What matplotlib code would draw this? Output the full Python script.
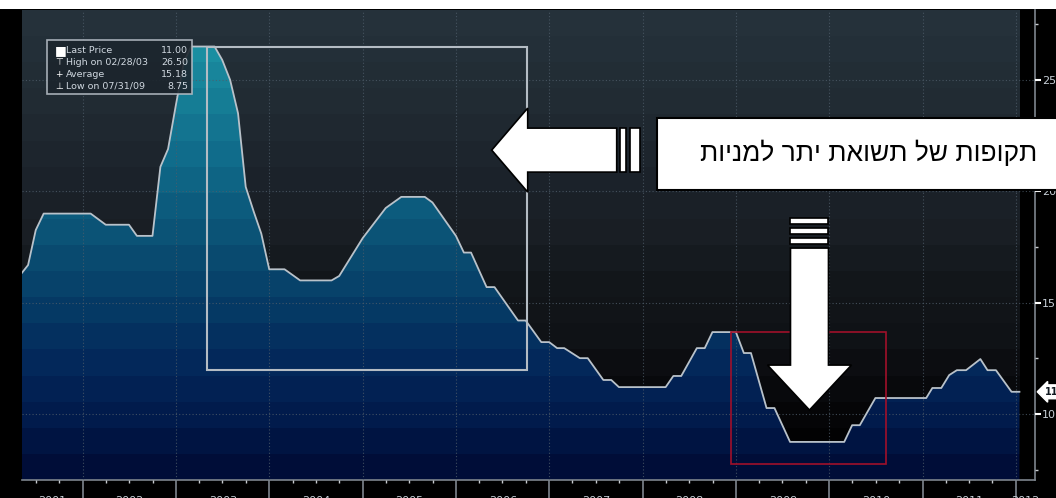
import numpy as np
import pandas as pd
import matplotlib
matplotlib.use('Agg')
import matplotlib.pyplot as plt
import matplotlib.dates as mdates
import matplotlib.transforms as mtransforms
from matplotlib.patches import Rectangle, Polygon
from matplotlib.colors import to_rgb

# turning points of the series
dates = ['2001-04-30', '2001-05-31', '2001-06-30', '2001-07-31', '2002-01-31', '2002-03-31',
         '2002-06-30', '2002-07-31', '2002-09-30', '2002-10-31', '2002-11-30', '2002-12-31',
         '2003-01-31', '2003-02-28', '2003-05-31', '2003-06-30', '2003-07-31', '2003-08-31',
         '2003-09-30', '2003-10-31', '2003-11-30', '2003-12-31', '2004-02-29', '2004-04-30',
         '2004-08-31', '2004-09-30', '2004-12-31', '2005-03-31', '2005-05-31', '2005-08-31',
         '2005-09-30', '2005-12-31', '2006-01-31', '2006-02-28', '2006-04-30', '2006-05-31',
         '2006-08-31', '2006-09-30', '2006-11-30', '2006-12-31', '2007-01-31', '2007-02-28',
         '2007-04-30', '2007-05-31', '2007-07-31', '2007-08-31', '2007-09-30', '2008-03-31',
         '2008-04-30', '2008-05-31', '2008-07-31', '2008-08-31', '2008-09-30', '2008-12-31',
         '2009-01-31', '2009-02-28', '2009-04-30', '2009-05-31', '2009-07-31', '2010-02-28',
         '2010-03-31', '2010-04-30', '2010-06-30', '2011-01-15', '2011-02-08', '2011-03-15',
         '2011-04-15', '2011-05-15', '2011-06-20', '2011-08-15', '2011-09-12', '2011-10-15',
         '2011-12-15', '2012-01-15']
values = [16.24, 16.69, 18.26, 19.0, 19.0, 18.5,
          18.5, 18.0, 18.0, 21.1, 21.9, 23.9,
          25.8, 26.5, 26.5, 25.9, 25.0, 23.5,
          20.2, 19.1, 18.1, 16.5, 16.5, 16.0,
          16.0, 16.2, 17.9, 19.25, 19.75, 19.75,
          19.5, 18.0, 17.25, 17.25, 15.7, 15.7,
          14.2, 14.2, 13.23, 13.23, 12.96, 12.96,
          12.51, 12.51, 11.53, 11.53, 11.21, 11.21,
          11.71, 11.71, 12.96, 12.96, 13.68, 13.68,
          12.74, 12.74, 10.27, 10.27, 8.75, 8.75,
          9.5, 9.5, 10.72, 10.72, 11.17, 11.17,
          11.75, 11.97, 11.97, 12.47, 11.97, 11.97,
          11.0, 11.0]

years = list(range(2001, 2013))
y_ticks = [10, 15, 20, 25]
legend_names = ['Last Price', 'High on 02/28/03', 'Average', 'Low on 07/31/09']
legend_values = ['11.00', '26.50', '15.18', '8.75']
last_price = 11.00
note = 'תקופות של תשואת יתר למניות'

# highlighted periods: (start, end, low, high)
period_up = ('2003-05-01', '2006-10-07', 12.0, 26.5)
period_down = ('2008-12-10', '2010-08-10', 7.75, 13.7)

W, H = 1056, 498
fig = plt.figure(figsize=(W / 100, H / 100), dpi=100)
fig.patch.set_facecolor('black')
ax = fig.add_axes([22 / W, 18 / H, 1013 / W, 470 / H])
ax.set_facecolor('black')

xd = mdates.date2num(pd.to_datetime(dates))
yv = np.array(values)
d0 = mdates.date2num(pd.Timestamp('2002-01-01'))
ppd = 93.3 / 365.25  # pixels per day
x_lo, x_hi = d0 - 61 / ppd, d0 + 952 / ppd
y_lo, y_hi = 7.04, 28.14
ax.set_xlim(x_lo, x_hi)
ax.set_ylim(y_lo, y_hi)


def bands(anchors, n=18):
    # stepped vertical gradient, top row first
    lv = np.array([a[0] for a in anchors])
    cols = np.array([to_rgb(a[1]) for a in anchors])
    centers = np.linspace(y_hi, y_lo, n)
    img = np.stack([np.interp(centers, lv, cols[:, k]) for k in range(3)], axis=-1)
    return img[:, None, :]


bg = bands([(7, '#000000'), (9.5, '#050507'), (11.5, '#0b0c10'), (13.5, '#101317'),
            (16, '#13171b'), (18.5, '#1a1f26'), (21, '#1c232b'), (24, '#212b33'),
            (28, '#25313a')])
fill = bands([(7, '#000d38'), (9.5, '#011b4c'), (12, '#03285a'), (14.5, '#063a65'),
              (17, '#0a4b70'), (19.5, '#0d5c7e'), (22, '#116d8c'), (24.5, '#167e96'),
              (27, '#1b8fa2')])
ext = [x_lo, xd[-1], y_lo, y_hi]
ax.imshow(bg, extent=ext, aspect='auto', interpolation='nearest', zorder=0)
im = ax.imshow(fill, extent=ext, aspect='auto', interpolation='nearest', zorder=1)
verts = np.vstack([[xd[0], y_lo], np.column_stack([xd, yv]), [xd[-1], y_lo]])
shape = Polygon(verts, closed=True, facecolor='none', edgecolor='none')
ax.add_patch(shape)
im.set_clip_path(shape)
ax.plot(xd, yv, color='#b9c2ca', lw=1.3, zorder=4)

# axes dressing
ax.xaxis.set_major_locator(mdates.YearLocator())
ax.xaxis.set_minor_locator(mdates.MonthLocator(bymonth=[4, 7, 10]))
ax.xaxis.set_major_formatter(plt.NullFormatter())
ax.tick_params(axis='x', which='major', length=18, width=1.2, color='#7d858d', direction='out')
ax.tick_params(axis='x', which='minor', length=2.5, width=1, color='#c8ccd0', direction='out')
ax.yaxis.tick_right()
ax.set_yticks(y_ticks)
ax.set_yticks(np.arange(7.5, 28, 2.5), minor=True)
ax.tick_params(axis='y', which='major', length=4, width=1.5, color='white', pad=1,
               labelsize=8, labelcolor='#c8d0d8')
ax.tick_params(axis='y', which='minor', length=2, width=1, color='#c8ccd0')
ax.grid(True, which='major', color='#4f5d6a', ls=(0, (1, 2)), lw=0.8, alpha=0.8, zorder=3)
ax.set_axisbelow(False)
for s in ['top', 'left']:
    ax.spines[s].set_visible(False)
for s in ['bottom', 'right']:
    ax.spines[s].set_color('#7d858d')
    ax.spines[s].set_linewidth(1.2)

trans = mtransforms.blended_transform_factory(ax.transData, ax.transAxes)
for yr in years:
    a = max(mdates.date2num(pd.Timestamp(f'{yr}-01-01')), x_lo)
    b = min(mdates.date2num(pd.Timestamp(f'{yr + 1}-01-01')), x_hi)
    ax.text((a + b) / 2, -15.5 / 470, str(yr), transform=trans, ha='center', va='top',
            fontsize=8, color='#c8d0d8', clip_on=False)

# last price tag
ax.annotate(f'{last_price:.2f}', xy=(1.0, last_price), xycoords=('axes fraction', 'data'),
            xytext=(7, 0), textcoords='offset points', va='center', ha='left',
            fontsize=7, color='#101820', fontweight='bold', annotation_clip=False,
            bbox=dict(boxstyle='larrow,pad=0.2', fc='white', ec='white'))

# highlighted periods
s, e, lo, hi = period_up
s, e = mdates.date2num(pd.Timestamp(s)), mdates.date2num(pd.Timestamp(e))
ax.add_patch(Rectangle((s, lo), e - s, hi - lo, fill=False, ec='#b4bcc4', lw=1.5, zorder=5))
s, e, lo, hi = period_down
s, e = mdates.date2num(pd.Timestamp(s)), mdates.date2num(pd.Timestamp(e))
ax.add_patch(Rectangle((s, lo), e - s, hi - lo, fill=False, ec='#a0102a', lw=1.2, zorder=5))

# legend box
lb = Rectangle((25 / 1013, 1 - 84 / 470), 145 / 1013, 54 / 470, transform=ax.transAxes,
               fc='#1c252d', ec='#b4bcc4', lw=1.2, alpha=0.9, zorder=6)
ax.add_patch(lb)
icons = ['■', '⊤', '+', '⊥']
for i, (nm, val) in enumerate(zip(legend_names, legend_values)):
    yy = 1 - (40.7 + 11.8 * i) / 470
    ax.text(33 / 1013, yy, icons[i], transform=ax.transAxes, fontsize=6.5 if i else 9,
            color='white', ha='left', va='center', zorder=7)
    ax.text(44 / 1013, yy, nm, transform=ax.transAxes, fontsize=6.8, color='#d0d8e0',
            ha='left', va='center', zorder=7)
    ax.text(166 / 1013, yy, val, transform=ax.transAxes, fontsize=6.8, color='#d0d8e0',
            ha='right', va='center', zorder=7)


def block(anchor, pts):
    # polygon given in pixels (y down) relative to an anchor in data coordinates
    t = fig.dpi_scale_trans + mtransforms.ScaledTranslation(anchor[0], anchor[1], ax.transData)
    p = np.array(pts, dtype=float) / 100.0
    p[:, 1] *= -1
    return Polygon(p, closed=True, transform=t, fc='white', ec='black', lw=1.2,
                   zorder=8, clip_on=False)


tip1 = (mdates.date2num(pd.Timestamp('2006-05-20')), 21.85)
fig.add_artist(block(tip1, [(0, 0), (36, -42), (36, -22), (125, -22), (125, 22),
                            (36, 22), (36, 42)]))
for a, b in [(128, 134), (138, 148)]:
    fig.add_artist(block(tip1, [(a, -22), (b, -22), (b, 22), (a, 22)]))

tip2 = (mdates.date2num(pd.Timestamp('2009-10-15')), 10.18)
fig.add_artist(block(tip2, [(0, 0), (42, -45), (19, -45), (19, -162), (-19, -162),
                            (-19, -45), (-42, -45)]))
for a, b in [(-166, -172), (-176, -182), (-186, -192)]:
    fig.add_artist(block(tip2, [(-19, a), (19, a), (19, b), (-19, b)]))

# note box
fig.add_artist(Rectangle((657 / W, 1 - 190 / H), 420 / W, 72 / H, transform=fig.transFigure,
                         fc='white', ec='black', lw=1.5, zorder=9))
fig.text(869 / W, 1 - 153 / H, note[::-1], ha='center', va='center', fontsize=19,
         family=['Liberation Sans', 'DejaVu Sans'], color='black', zorder=10)

# white page strip above the chart
fig.add_artist(Rectangle((0, 1 - 9 / H), 1, 9 / H, transform=fig.transFigure,
                         fc='white', ec='none', zorder=11))

fig.savefig('out.png', dpi=100, facecolor=fig.get_facecolor())
